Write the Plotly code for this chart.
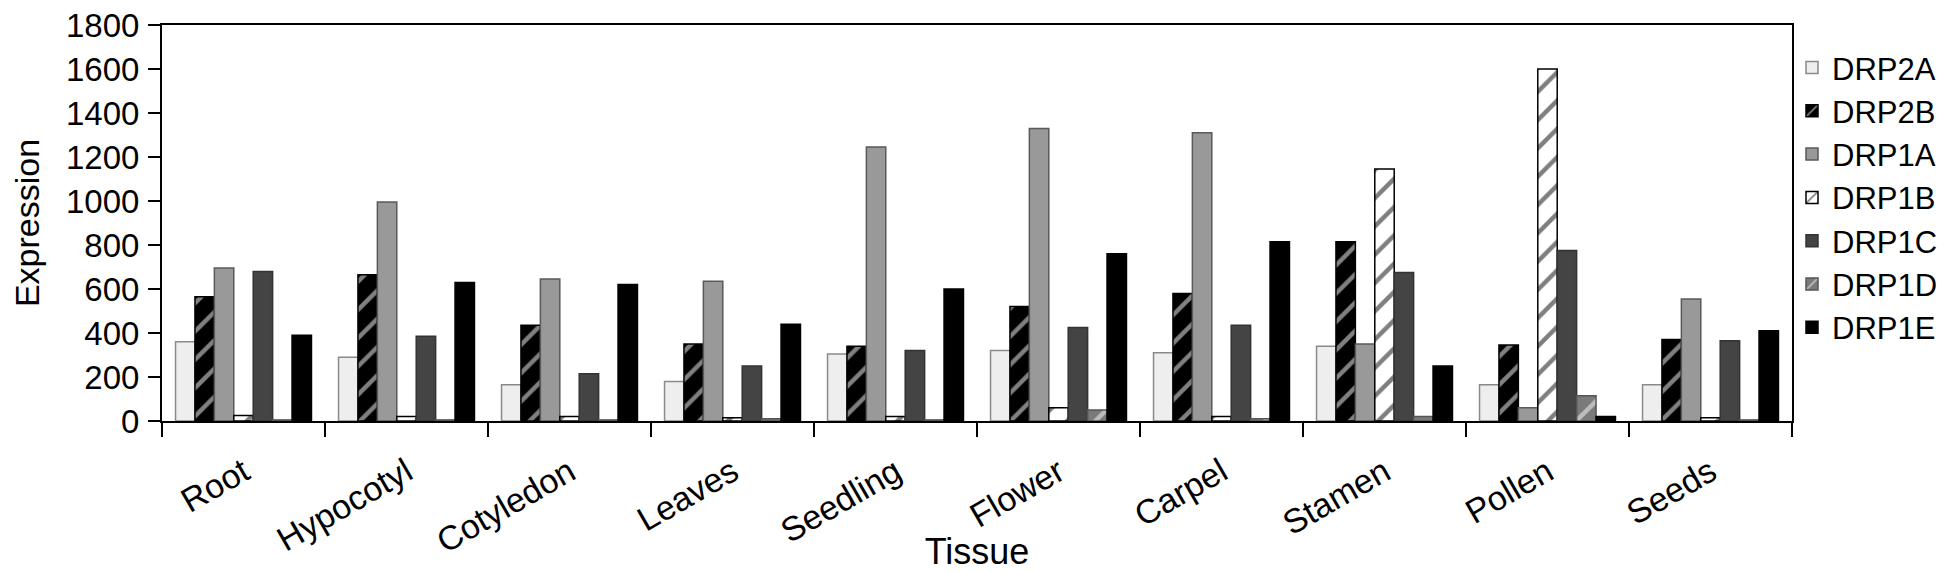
import plotly.graph_objects as go

tissues = ["Root", "Hypocotyl", "Cotyledon", "Leaves", "Seedling",
           "Flower", "Carpel", "Stamen", "Pollen", "Seeds"]

DRP2A = [360, 290, 165, 180, 305, 320, 310, 340, 165, 165]
DRP2B = [565, 665, 435, 350, 340, 520, 580, 815, 345, 370]
DRP1A = [695, 995, 645, 635, 1245, 1330, 1310, 350, 60, 555]
DRP1B = [25, 20, 20, 15, 20, 60, 20, 1145, 1600, 15]
DRP1C = [680, 385, 215, 250, 320, 425, 435, 675, 775, 365]
DRP1D = [5, 5, 5, 10, 5, 50, 10, 20, 115, 5]
DRP1E = [390, 630, 620, 440, 600, 760, 815, 250, 20, 410]

series = [
    ("DRP2A", DRP2A, dict(color="#eeeeee", line=dict(color="#8a8a8a", width=1.5))),
    ("DRP2B", DRP2B, dict(color="#000000", line=dict(color="#000000", width=1.5),
                          pattern=dict(shape="/", bgcolor="#000000", fgcolor="#ffffff",
                                       size=20, solidity=0.22, fillmode="overlay"))),
    ("DRP1A", DRP1A, dict(color="#999999", line=dict(color="#5a5a5a", width=1.5))),
    ("DRP1B", DRP1B, dict(color="#ffffff", line=dict(color="#000000", width=1.5),
                          pattern=dict(shape="/", bgcolor="#ffffff", fgcolor="#000000",
                                       size=20, solidity=0.22, fillmode="overlay"))),
    ("DRP1C", DRP1C, dict(color="#444444", line=dict(color="#333333", width=1.5))),
    ("DRP1D", DRP1D, dict(color="#7a7a7a", line=dict(color="#555555", width=1.5),
                          pattern=dict(shape="/", bgcolor="#7a7a7a", fgcolor="#ffffff",
                                       size=20, solidity=0.22, fillmode="overlay"))),
    ("DRP1E", DRP1E, dict(color="#000000", line=dict(color="#000000", width=1.5))),
]

fig = go.Figure()
for name, vals, marker in series:
    fig.add_trace(go.Bar(name=name, x=tissues, y=vals, marker=marker))

FONT = "Liberation Sans, Arial, sans-serif"

# the page body adds an 8px offset, so the figure is sized to fit inside it
fig.update_layout(
    width=1942, height=564,
    barmode="group", bargap=0.166, bargroupgap=0,
    plot_bgcolor="white", paper_bgcolor="white",
    margin=dict(l=154, r=158, t=17, b=151, autoexpand=False),
    font=dict(family=FONT, size=34, color="black"),
    legend=dict(x=1.0, y=0.96, xanchor="left", yanchor="top",
                font=dict(size=31), itemwidth=30, tracegroupgap=0,
                bgcolor="rgba(0,0,0,0)"),
    xaxis=dict(
        type="category", tickson="boundaries", ticks="outside", ticklen=14,
        tickwidth=2, tickcolor="black", showline=True, linecolor="black",
        linewidth=2, mirror=True, tickangle=-30, automargin=False,
        ticklabelstandoff=16, ticklabeloverflow="allow",
        tickfont=dict(family=FONT, size=34, color="black"),
        title=dict(text="Tissue", font=dict(size=36), standoff=12),
        showgrid=False,
    ),
    yaxis=dict(
        range=[0, 1800], dtick=200, ticks="outside", ticklen=12, tickwidth=2,
        tickcolor="black", showline=True, linecolor="black", linewidth=2,
        mirror=True, showgrid=False, zeroline=False, ticklabelstandoff=2,
        ticklabeloverflow="allow", automargin=False,
        tickfont=dict(family=FONT, size=33, color="black"),
        title=dict(text="Expression", font=dict(size=34), standoff=50),
    ),
)

fig.write_html("out.html")
